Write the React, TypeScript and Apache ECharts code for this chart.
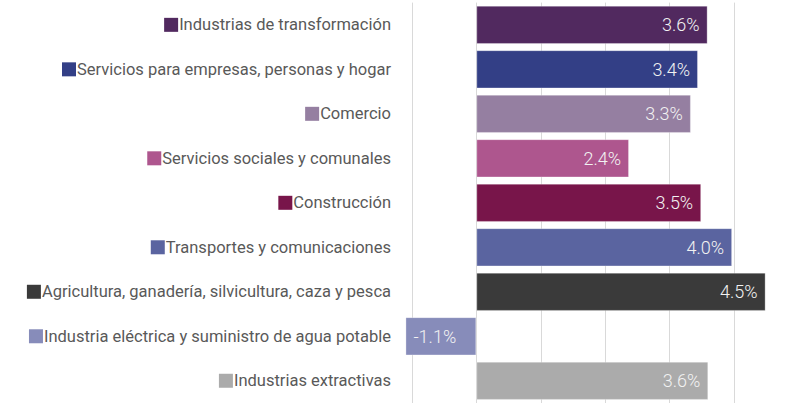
import React, { useEffect, useRef } from "react";
import * as echarts from "echarts";

const categories = [
  "Industrias de transformación",
  "Servicios para empresas, personas y hogar",
  "Comercio",
  "Servicios sociales y comunales",
  "Construcción",
  "Transportes y comunicaciones",
  "Agricultura, ganadería, silvicultura, caza y pesca",
  "Industria eléctrica y suministro de agua potable",
  "Industrias extractivas",
];

const values = [3.59, 3.44, 3.33, 2.37, 3.49, 3.97, 4.49, -1.1, 3.6];

const colors = [
  "#51295F",
  "#333F86",
  "#957FA1",
  "#AE568E",
  "#78154A",
  "#5A64A0",
  "#3A3A3A",
  "#878CBA",
  "#ABABAB",
];

export default function App() {
  const ref = useRef<HTMLDivElement>(null);
  useEffect(() => {
    if (!ref.current) return;
    const chart = echarts.init(ref.current, undefined, { renderer: "svg" });
    const rich: Record<string, any> = {
      t: {
        fontFamily: "Roboto",
        fontSize: 16.5,
        color: "#595959",
        padding: [0, 0, 0, 1],
      },
    };
    colors.forEach((c, i) => {
      rich["m" + i] = { width: 14, height: 14, backgroundColor: c };
    });
    chart.setOption({
      animation: false,
      grid: { left: 399, right: 7.4, top: 2.6, height: 402.8, containLabel: false },
      xAxis: {
        type: "value",
        min: -1.2,
        max: 4.8,
        splitNumber: 6,
        axisLabel: { show: false },
        axisLine: { show: false },
        axisTick: { show: false },
        splitLine: {
          show: true,
          showMinLine: false,
          showMaxLine: false,
          lineStyle: { color: "#D9D9D9", width: 1 },
        },
      },
      yAxis: {
        type: "category",
        inverse: true,
        data: categories,
        axisLine: { show: false },
        axisTick: { show: false },
        axisLabel: {
          margin: 8,
          formatter: (v: string, i: number) => `{m${i}| }{t|${v}}`,
          rich,
        },
      },
      series: [
        {
          type: "bar",
          barCategoryGap: "14%",
          data: values.map((v, i) => ({
            value: v,
            itemStyle: { color: colors[i] },
            label: { position: v < 0 ? "insideLeft" : "insideRight" },
          })),
          itemStyle: { borderColor: "rgba(255,255,255,0.3)", borderWidth: 1 },
          label: {
            show: true,
            distance: 8,
            fontFamily: "Roboto",
            fontSize: 18,
            fontWeight: 300,
            color: "#F2F2F2",
            formatter: (p: any) => `${p.value.toFixed(1)}%`,
          },
        },
      ],
    });
    return () => chart.dispose();
  }, []);
  return (
    <div
      ref={ref}
      style={{ position: "fixed", left: 0, top: 0, width: 793, height: 403, background: "#fff" }}
    />
  );
}
